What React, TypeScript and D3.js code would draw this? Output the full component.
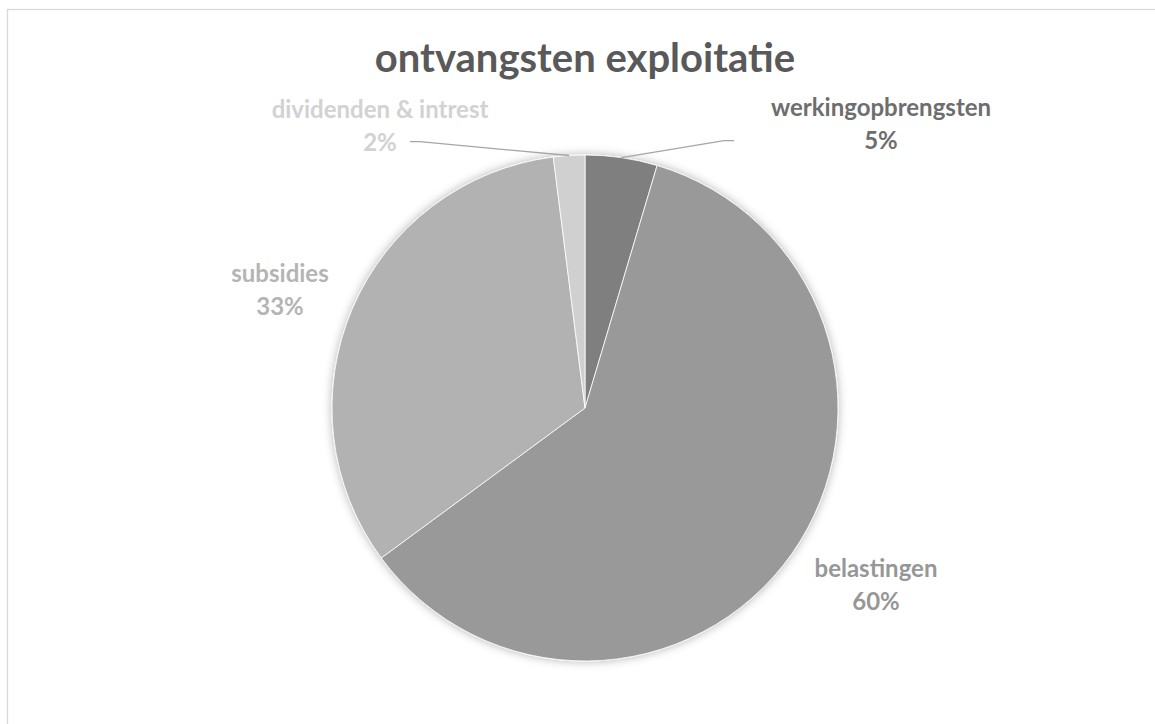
import React from "react";
import * as d3 from "d3";

const categories = ["werkingopbrengsten", "belastingen", "subsidies", "dividenden & intrest"];
const values = [4.6, 60.3, 33.1, 2.0];
const percentLabels = ["5%", "60%", "33%", "2%"];
const sliceColors = ["#7f7f7f", "#999999", "#b2b2b2", "#d0d0d0"];
const labelColors = ["#6e6e6e", "#979797", "#b4b4b4", "#d2d2d2"];

const W = 1155;
const H = 724;
const cx = 585;
const cy = 408;
const R = 253;
const FONT = "Lato, 'Open Sans', sans-serif";

// label anchors (center x, first baseline y)
const labelPos = [
  { x: 881, y: 116 },
  { x: 876, y: 577 },
  { x: 280, y: 282 },
  { x: 380, y: 118 },
];
// leader line label-end points [outer, elbow]
const leaders: Record<number, [number, number][]> = {
  0: [[734, 140.7], [724, 140.7]],
  3: [[410, 141.7], [420, 141.7]],
};

export default function App() {
  const pie = d3.pie<number>().sort(null).value((d) => d);
  const arcs = pie(values);
  const arcGen = d3.arc<d3.PieArcDatum<number>>().innerRadius(0).outerRadius(R);

  return (
    <svg width={W} height={H} style={{ display: "block", position: "absolute", left: 0, top: 0 }}>
      <defs>
        <filter id="sh" x="-20%" y="-20%" width="140%" height="140%">
          <feDropShadow dx="0" dy="0" stdDeviation="5" floodColor="#000" floodOpacity="0.3" />
        </filter>
      </defs>
      <rect x={0} y={0} width={W} height={H} fill="#fff" />
      <rect x={7.5} y={9.5} width={W + 20} height={H + 20} fill="none" stroke="#d9d9d9" strokeWidth={1.3} />
      <text x={cx} y={72} textAnchor="middle" fontFamily={FONT} fontWeight={700} fontSize={40} fill="#595959">
        ontvangsten exploitatie
      </text>
      <g transform={`translate(${cx},${cy})`} filter="url(#sh)">
        {arcs.map((a, i) => (
          <path key={i} d={arcGen(a) || ""} fill={sliceColors[i]} stroke="#fff" strokeWidth={0.8} />
        ))}
      </g>
      {arcs.map((a, i) => {
        const pts = leaders[i];
        if (!pts) return null;
        const mid = (a.startAngle + a.endAngle) / 2;
        const ex = cx + R * Math.sin(mid);
        const ey = cy - R * Math.cos(mid);
        const all = [...pts, [ex, ey]];
        return (
          <polyline
            key={"l" + i}
            points={all.map((p) => p.join(",")).join(" ")}
            fill="none"
            stroke="#a6a6a6"
            strokeWidth={1.3}
          />
        );
      })}
      {categories.map((c, i) => (
        <text
          key={"t" + i}
          textAnchor="middle"
          fontFamily={FONT}
          fontWeight={700}
          fontSize={24}
          fill={labelColors[i]}
        >
          <tspan x={labelPos[i].x} y={labelPos[i].y}>{c}</tspan>
          <tspan x={labelPos[i].x} y={labelPos[i].y + 33}>{percentLabels[i]}</tspan>
        </text>
      ))}
    </svg>
  );
}
